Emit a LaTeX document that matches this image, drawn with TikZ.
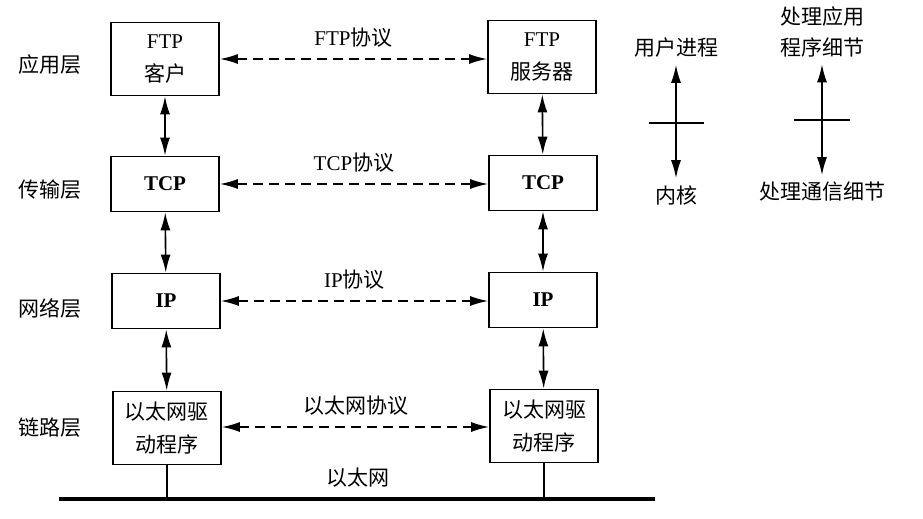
\documentclass[tikz,border=0pt]{standalone}
\usepackage{fontspec}
\setmainfont{Liberation Serif}
\newfontfamily\cjk{Noto Sans CJK SC}
\usetikzlibrary{arrows.meta,positioning}
\tikzset{
  layerbox/.style={draw=black,line width=0.9pt,minimum width=54pt,
                   align=center,font=\fontsize{10.5}{16.5}\selectfont},
  lbl/.style={align=center,font=\fontsize{10.5}{15.5}\selectfont\cjk},
  varr/.style={{Latex[length=9pt,width=5pt]}-{Latex[length=9pt,width=5pt]},line width=0.8pt},
  darr/.style={{Latex[length=9pt,width=5pt]}-{Latex[length=9pt,width=5pt]},line width=0.8pt,
               dash pattern=on 5pt off 3pt},
}

\begin{document}
\begin{tikzpicture}[x=0.5pt,y=-0.5pt]
  \useasboundingbox (0,0) rectangle (923,519);
  % layer names
  \node[lbl] (app) at (50,65) {应用层};
  \node[lbl] (trans) at (50,190) {传输层};
  \node[lbl] (net) at (50,308) {网络层};
  \node[lbl] (link) at (50,428) {链路层};

  % client stack
  \node[layerbox, minimum height=36.5pt] (ftpc) at (165,59) {FTP\\\cjk 客户};
  \node[layerbox, minimum height=27.5pt, font=\fontsize{10.5}{16.5}\selectfont\bfseries] (tcpc) at (165,184) {TCP};
  \node[layerbox, minimum height=27.5pt, font=\fontsize{10.5}{16.5}\selectfont\bfseries] (ipc) at (166,301) {IP};
  \node[layerbox, minimum height=36.5pt, font=\fontsize{10.5}{16.5}\selectfont\cjk] (ethc) at (167,428) {以太网驱\\动程序};

  % server stack
  \node[layerbox, minimum height=36.5pt] (ftps) at (542,57) {FTP\\\cjk 服务器};
  \node[layerbox, minimum height=27.5pt, font=\fontsize{10.5}{16.5}\selectfont\bfseries] (tcps) at (543,183) {TCP};
  \node[layerbox, minimum height=27.5pt, font=\fontsize{10.5}{16.5}\selectfont\bfseries] (ips) at (543,300) {IP};
  \node[layerbox, minimum height=36.5pt, font=\fontsize{10.5}{16.5}\selectfont\cjk] (eths) at (544,426) {以太网驱\\动程序};

  \draw[varr] (ftpc) -- (tcpc);
  \draw[varr] (tcpc) -- (ipc);
  \draw[varr] (ipc) -- (ethc);
  \draw[varr] (ftps) -- (tcps);
  \draw[varr] (tcps) -- (ips);
  \draw[varr] (ips) -- (eths);

  % peer protocols
  \draw[darr] (ftpc.east |- 0,59) -- node[above=2pt, lbl, font=\fontsize{10.5}{15.5}\selectfont] (pftp) {FTP{\cjk 协议}} (ftps.west |- 0,59);
  \draw[darr] (tcpc.east |- 0,184) -- node[above=2pt, lbl, font=\fontsize{10.5}{15.5}\selectfont] (ptcp) {TCP{\cjk 协议}} (tcps.west |- 0,184);
  \draw[darr] (ipc.east |- 0,301) -- node[above=2pt, lbl, font=\fontsize{10.5}{15.5}\selectfont] (pip) {IP{\cjk 协议}} (ips.west |- 0,301);
  \draw[darr] (ethc.east |- 0,427) -- node[above=2pt, lbl] (peth) {以太网协议} (eths.west |- 0,427);

  % the wire
  \coordinate (wireL) at (59,499);
  \coordinate (wireR) at (655,499);
  \draw[line width=2pt] (wireL) -- (wireR);
  \draw[line width=0.8pt] (ethc.south) -- (ethc.south |- wireL);
  \draw[line width=0.8pt] (eths.south) -- (eths.south |- wireL);
  \node[lbl] (wire) at (358,478) {以太网};

  % user / kernel legend
  \node[lbl] (user) at (676,48) {用户进程};
  \node[lbl] (kern) at (676,195) {内核};
  \draw[varr] (user) -- (kern);
  \coordinate (tick1) at (676,123);
  \draw[line width=0.8pt] (tick1) ++(-27,0) -- ++(55,0);

  \node[lbl] (appd) at (822,32) {处理应用\\程序细节};
  \node[lbl] (comd) at (822,192) {处理通信细节};
  \draw[varr] (appd) -- (comd);
  \coordinate (tick2) at (822,120);
  \draw[line width=0.8pt] (tick2) ++(-28,0) -- ++(56,0);
\end{tikzpicture}
\end{document}
